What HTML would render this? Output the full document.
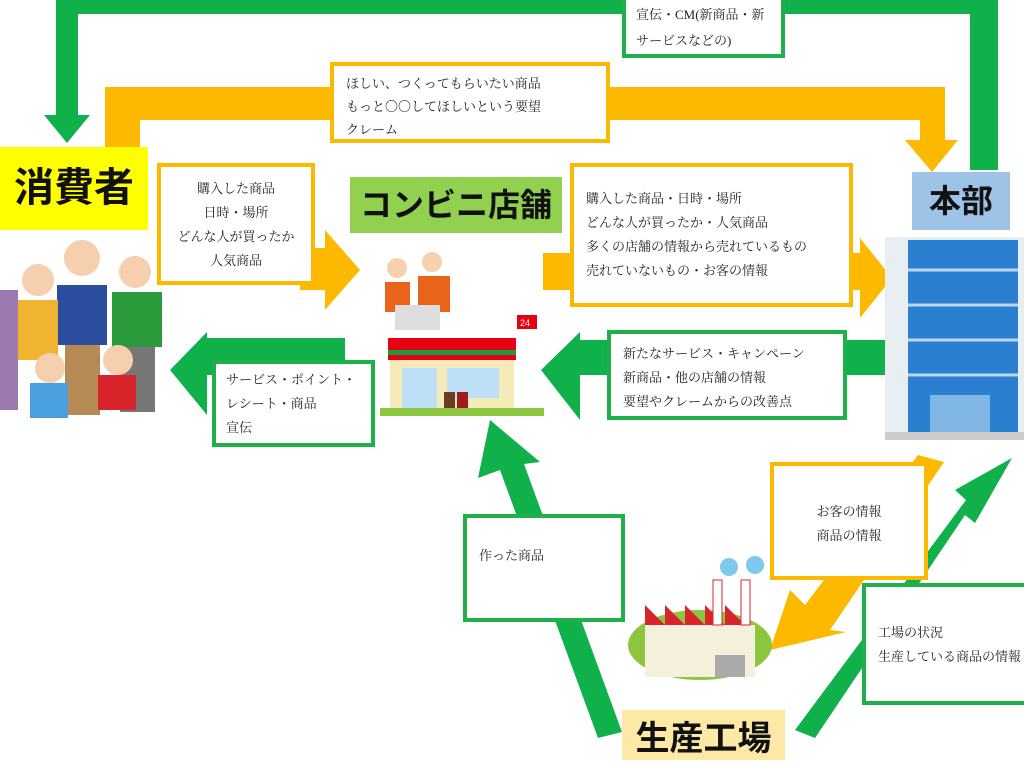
<!DOCTYPE html>
<html><head><meta charset="utf-8"><style>
body{margin:0;width:1024px;height:749px;overflow:hidden;background:#fff;position:relative;font-family:"Liberation Serif","Noto Serif CJK SC",serif;}
.b{position:absolute;background:#fff;box-sizing:border-box;font-size:13px;line-height:24px;color:#222}
.g{border:4px solid #1db04b}.o{border:4px solid #fcb900}
.lab{position:absolute;font-family:"Liberation Sans","Noto Sans CJK JP",sans-serif;color:#111;text-align:center;font-weight:bold}
</style></head><body>
<svg width="1024" height="749" style="position:absolute;left:0;top:0">
<path d="M56 0H998V170H970V14H78V115H90L67 143L44 115H56Z" fill="#10b04a"/>
<path d="M105 87H945V140H958L932 172L905 140H920V120H140V150H105Z" fill="#fcb900"/>
<path d="M300 248H325V230L360 270L325 310V290H300Z" fill="#fcb900"/>
<path d="M543 253H860V238L892 278L860 318V290H543Z" fill="#fcb900"/>
<path d="M345 338V375H207V415L170 370L207 332V338Z" fill="#10b04a"/>
<path d="M885 340V375H580V420L541 370L580 332V340Z" fill="#10b04a"/>
<path d="M598 738L622 732L524 464L540 462L490 420L478 478L500 470Z" fill="#10b04a"/>
<path d="M918 455L944 462L830 630L846 632L770 650L790 590L805 605Z" fill="#fcb900"/>
<path d="M795 730L815 738L965 515L975 523L1012 458L955 490L966 500Z" fill="#10b04a"/>
<rect x="885" y="237" width="139" height="203" fill="#e8eef2"/>
<rect x="908" y="240" width="110" height="195" fill="#2a7fd0"/>
<g stroke="#bcd8ee" stroke-width="3"><line x1="908" y1="270" x2="1018" y2="270"/><line x1="908" y1="305" x2="1018" y2="305"/><line x1="908" y1="340" x2="1018" y2="340"/><line x1="908" y1="375" x2="1018" y2="375"/></g>
<rect x="930" y="395" width="60" height="40" fill="#7fb6e4"/>
<rect x="885" y="432" width="139" height="8" fill="#ccc"/>
<rect x="388" y="338" width="128" height="22" fill="#e60012"/>
<rect x="388" y="350" width="128" height="5" fill="#1a9b40"/>
<rect x="390" y="360" width="124" height="52" fill="#f6eab8"/>
<rect x="402" y="368" width="35" height="42" fill="#bde0f6"/><rect x="447" y="368" width="52" height="30" fill="#bde0f6"/>
<rect x="444" y="392" width="11" height="20" fill="#6b3b22"/><rect x="457" y="392" width="11" height="20" fill="#a01c1c"/>
<rect x="380" y="408" width="164" height="8" fill="#8cc63f"/>
<rect x="517" y="315" width="20" height="14" fill="#e60012"/>
<text x="520" y="326" font-size="9" fill="#fff" font-family="Liberation Sans">24</text>
<circle cx="397" cy="268" r="10" fill="#f7d1ad"/><circle cx="432" cy="262" r="10" fill="#f7d1ad"/>
<rect x="385" y="282" width="25" height="30" fill="#e8641b"/><rect x="418" y="276" width="32" height="36" fill="#e8641b"/>
<rect x="395" y="305" width="45" height="25" fill="#ddd"/>
<g>
<circle cx="82" cy="258" r="18" fill="#f6cfae"/><rect x="57" y="285" width="50" height="60" fill="#2b4f9e"/><rect x="65" y="345" width="35" height="70" fill="#b68a55"/>
<circle cx="135" cy="272" r="16" fill="#f6cfae"/><rect x="112" y="292" width="50" height="55" fill="#2b9a3a"/><rect x="120" y="347" width="35" height="65" fill="#777"/>
<circle cx="38" cy="280" r="16" fill="#f6cfae"/><rect x="18" y="300" width="40" height="60" fill="#f0b530"/>
<circle cx="50" cy="368" r="15" fill="#f6cfae"/><rect x="30" y="383" width="38" height="35" fill="#4aa0de"/>
<circle cx="118" cy="360" r="15" fill="#f6cfae"/><rect x="98" y="375" width="38" height="35" fill="#d9242c"/>
<rect x="0" y="290" width="18" height="120" fill="#9a7ab0"/>
</g>
<ellipse cx="700" cy="645" rx="72" ry="35" fill="#8cc63f"/>
<rect x="645" y="625" width="110" height="52" fill="#f5f0dc"/>
<path d="M645 625L645 605L665 625L665 605L685 625L685 605L705 625L705 605L725 625L725 605L745 625L755 625Z" fill="#d9242c"/>
<rect x="713" y="580" width="9" height="45" fill="#fff" stroke="#d9242c"/><rect x="741" y="580" width="9" height="45" fill="#fff" stroke="#d9242c"/>
<circle cx="729" cy="567" r="9" fill="#7ec8ec"/><circle cx="755" cy="565" r="9" fill="#7ec8ec"/>
<rect x="715" y="655" width="30" height="22" fill="#aaa"/>
</svg>

<div class="b g" style="left:622px;top:-8px;width:163px;height:66px;padding:6px 0 0 10px;line-height:26px">宣伝・CM(新商品・新<br>サービスなどの)</div>
<div class="b o" style="left:330px;top:62px;width:280px;height:81px;padding:6px 0 0 12px;line-height:23px">ほしい、つくってもらいたい商品<br>もっと〇〇してほしいという要望<br>クレーム</div>
<div class="lab" style="left:0;top:147px;width:148px;height:83px;background:#ffff00;font-size:40px;line-height:83px">消費者</div>
<div class="b o" style="left:157px;top:163px;width:158px;height:122px;text-align:center;padding-top:10px;line-height:24px">購入した商品<br>日時・場所<br>どんな人が買ったか<br>人気商品</div>
<div class="lab" style="left:350px;top:177px;width:212px;height:56px;background:#92d050;font-size:32px;line-height:56px">コンビニ店舗</div>
<div class="b o" style="left:570px;top:163px;width:283px;height:144px;padding:20px 0 0 12px;line-height:24px">購入した商品・日時・場所<br>どんな人が買ったか・人気商品<br>多くの店舗の情報から売れているもの<br>売れていないもの・お客の情報</div>
<div class="lab" style="left:912px;top:172px;width:98px;height:58px;background:#9dc3e6;font-size:32px;line-height:58px">本部</div>
<div class="b g" style="left:212px;top:360px;width:163px;height:87px;padding:4px 0 0 10px">サービス・ポイント・<br>レシート・商品<br>宣伝</div>
<div class="b g" style="left:607px;top:330px;width:240px;height:90px;padding:8px 0 0 12px">新たなサービス・キャンペーン<br>新商品・他の店舗の情報<br>要望やクレームからの改善点</div>
<div class="b g" style="left:463px;top:514px;width:162px;height:108px;padding:26px 0 0 12px">作った商品</div>
<div class="b o" style="left:770px;top:462px;width:158px;height:118px;text-align:center;padding-top:34px">お客の情報<br>商品の情報</div>
<div class="b g" style="left:862px;top:583px;width:170px;height:122px;padding:34px 0 0 12px;white-space:nowrap">工場の状況<br>生産している商品の情報</div>
<div class="lab" style="left:622px;top:710px;width:163px;height:50px;background:#fde9a6;font-size:34px;line-height:58px">生産工場</div>
</body></html>
